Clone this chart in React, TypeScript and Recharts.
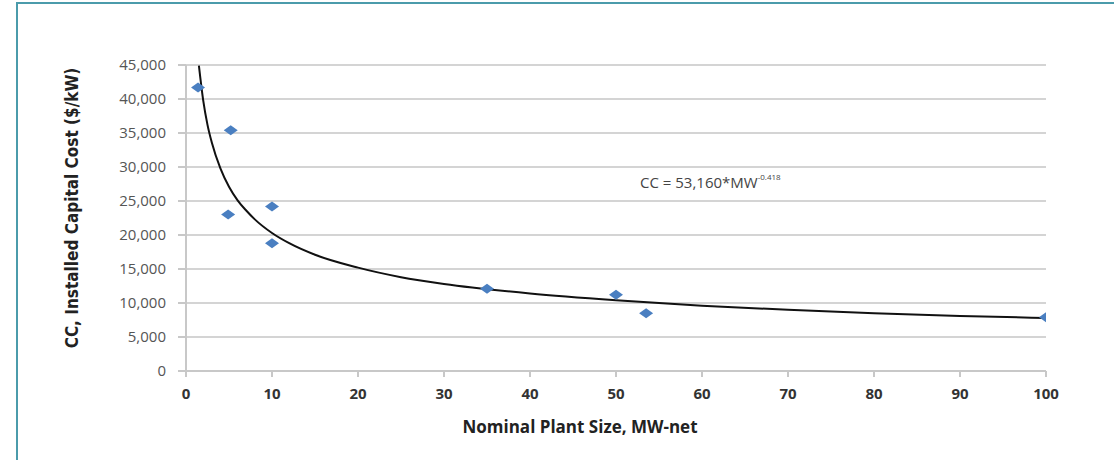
import React from 'react';
import { ComposedChart, Scatter, Line, XAxis, YAxis, CartesianGrid } from 'recharts';

// plant size (MW-net) vs installed capital cost ($/kW)
const plantSizes = [1.4, 5.2, 4.9, 10, 10, 35, 50, 53.5, 100];
const plantCosts = [41700, 35400, 23000, 24200, 18800, 12100, 11200, 8500, 7900];

// power-law trend line, sampled along the drawn curve
const curveSizes = [1.5, 2, 2.5, 3, 4, 5, 6, 7, 8, 10, 12, 15, 20, 25, 30, 40, 50, 60, 70, 80, 90, 100];
const curveCosts = [44900, 39800, 36200, 33600, 29800, 27100, 25100, 23600, 22300, 20300, 18800, 17100, 15200, 13800, 12800, 11400, 10400, 9600, 9000, 8500, 8100, 7800];

const xTicks = [0, 10, 20, 30, 40, 50, 60, 70, 80, 90, 100];
const yTicks = [0, 5000, 10000, 15000, 20000, 25000, 30000, 35000, 40000, 45000];

const points = plantSizes.map((x, i) => ({ x, y: plantCosts[i] }));
const curve = curveSizes.map((x, i) => ({ x, y: curveCosts[i] }));

const Diamond = (props: any) => {
  const { cx, cy } = props;
  if (cx == null || cy == null) return null;
  return (
    <polygon
      points={`${cx - 7},${cy} ${cx},${cy - 5} ${cx + 7},${cy} ${cx},${cy + 5}`}
      fill="#4a7fc1"
    />
  );
};

const teal = '#4b9bab';

export default function App() {
  return (
    <div style={{ position: 'absolute', left: 0, top: 0, width: 1114, height: 460, background: '#fff', overflow: 'hidden' }}>
      {/* frame */}
      <div style={{ position: 'absolute', left: 17, top: 2, width: 1097, height: 2, background: teal }} />
      <div style={{ position: 'absolute', left: 16, top: 2, width: 2, height: 458, background: teal }} />

      <ComposedChart
        width={1114}
        height={460}
        margin={{ top: 65, right: 68, bottom: 59, left: 100 }}
        style={{ position: 'absolute', left: 0, top: 0 }}
      >
        <CartesianGrid horizontal vertical={false} stroke="#d4d4d4" strokeWidth={2} />
        <XAxis
          type="number"
          dataKey="x"
          height={30}
          domain={[0, 100]}
          ticks={xTicks}
          interval={0}
          allowDataOverflow
          stroke="#c8c8c8"
          strokeWidth={2}
          tickSize={6}
          tickMargin={11}
          tick={{ fontSize: 15, fill: '#333', fontFamily: 'Open Sans', fontWeight: 700 }}
        />
        <YAxis
          type="number"
          dataKey="y"
          width={86}
          domain={[0, 45000]}
          ticks={yTicks}
          interval={0}
          allowDataOverflow
          stroke="#c8c8c8"
          strokeWidth={2}
          tickSize={8}
          tickMargin={12}
          tickFormatter={(v: number) => v.toLocaleString('en-US')}
          tick={{ fontSize: 15, fill: '#555', fontFamily: 'Open Sans' }}
        />
        <Line
          data={curve}
          dataKey="y"
          type="monotone"
          stroke="#111"
          strokeWidth={2}
          dot={false}
          activeDot={false}
          isAnimationActive={false}
        />
        <Scatter data={points} dataKey="y" shape={<Diamond />} isAnimationActive={false} />
      </ComposedChart>

      {/* y axis title */}
      <div
        style={{
          position: 'absolute',
          left: 72,
          top: 208,
          transform: 'translate(-50%, -50%) rotate(-90deg)',
          whiteSpace: 'nowrap',
          fontFamily: '"Liberation Sans Narrow", "DejaVu Sans Condensed", sans-serif',
          fontWeight: 700,
          fontSize: 17,
          color: '#222',
        }}
      >
        CC, Installed Capital Cost ($/kW)
      </div>

      {/* x axis title */}
      <div
        style={{
          position: 'absolute',
          left: 580,
          top: 426,
          transform: 'translate(-50%, -50%)',
          whiteSpace: 'nowrap',
          fontFamily: 'Open Sans',
          fontWeight: 700,
          fontSize: 17,
          color: '#222',
        }}
      >
        Nominal Plant Size, MW-net
      </div>

      {/* equation label */}
      <div
        style={{
          position: 'absolute',
          left: 640,
          top: 172,
          whiteSpace: 'nowrap',
          fontFamily: 'Open Sans',
          fontSize: 15,
          color: '#444',
        }}
      >
        CC = 53,160*MW<sup style={{ fontSize: 8, verticalAlign: 'top', position: 'relative', top: -1 }}>-0.418</sup>
      </div>
    </div>
  );
}
